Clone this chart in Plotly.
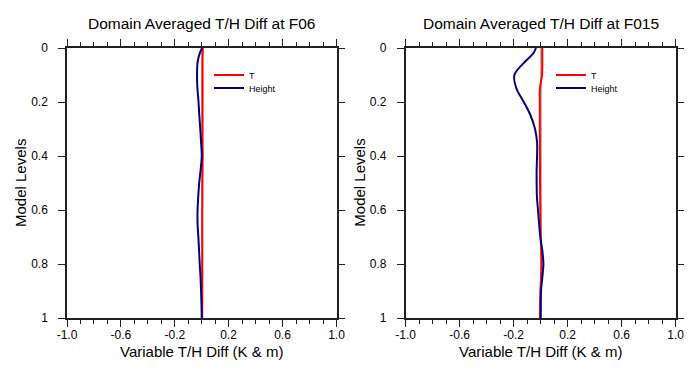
import plotly.graph_objects as go

# Model levels (vertical coordinate)
levels = [0, 0.02, 0.05, 0.1, 0.15, 0.2, 0.25, 0.3, 0.35, 0.4, 0.45, 0.5,
          0.55, 0.6, 0.65, 0.7, 0.75, 0.8, 0.85, 0.9, 0.95, 1.0]

# Panel 1: F06
f06_T = [0.008, 0.007, 0.006, 0.006, 0.006, 0.006, 0.006, 0.006, 0.006, 0.007, 0.006,
         0.005, 0.005, 0.004, 0.004, 0.004, 0.004, 0.004, 0.004, 0.004, 0.004, 0.003]
f06_H = [0.002, -0.015, -0.03, -0.035, -0.032, -0.024, -0.018, -0.011, -0.005, 0.0, -0.008,
         -0.019, -0.026, -0.031, -0.031, -0.025, -0.02, -0.015, -0.009, -0.005, -0.002, 0.0]

# Panel 2: F015
f015_T = [0.012, 0.012, 0.012, 0.01, -0.006, -0.007, -0.007, -0.007, -0.006, -0.006, -0.005,
          -0.005, -0.004, -0.003, -0.002, 0.0, 0.004, 0.006, 0.003, -0.002, -0.004, -0.005]
f015_H = [-0.035, -0.055, -0.115, -0.195, -0.18, -0.125, -0.075, -0.042, -0.027, -0.027, -0.03,
          -0.03, -0.028, -0.02, -0.012, -0.003, 0.012, 0.02, 0.012, 0.002, 0.0, 0.0]

titles = ["Domain Averaged T/H Diff at F06", "Domain Averaged T/H Diff at F015"]
x_tickvals = [-1.0, -0.6, -0.2, 0.2, 0.6, 1.0]
x_ticktext = ["-1.0", "-0.6", "-0.2", "0.2", "0.6", "1.0"]
y_tickvals = [0, 0.2, 0.4, 0.6, 0.8, 1.0]
y_ticktext = ["0", "0.2", "0.4", "0.6", "0.8", "1"]
x_title = "Variable T/H Diff (K & m)"
y_title = "Model Levels"

W, H = 699, 376
FONT = "Liberation Sans, Arial, Helvetica, sans-serif"
RED = "#ff0000"
BLUE = "#000080"

def px(x):
    return x / W

def py(y):
    return 1 - y / H

panels = [
    dict(x0=67, x1=336.5, T=f06_T, Hgt=f06_H, lg=("legend", "legend2"), lx=209),
    dict(x0=405.7, x1=675.7, T=f015_T, Hgt=f015_H, lg=("legend3", "legend4"), lx=551),
]
ytop, ybot = 48, 318

fig = go.Figure()
layout = dict(
    width=W, height=H, margin=dict(l=0, r=0, t=0, b=0, autoexpand=False),
    paper_bgcolor="white", plot_bgcolor="white",
    font=dict(family=FONT, color="black", size=12),
    annotations=[],
)

for i, p in enumerate(panels):
    n = "" if i == 0 else str(i + 1)
    xa, ya = "x" + n, "y" + n
    fig.add_trace(go.Scatter(x=p["T"], y=levels, mode="lines", name="T",
                             line=dict(color=RED, width=2, shape="spline"),
                             xaxis=xa, yaxis=ya, legend=p["lg"][0]))
    fig.add_trace(go.Scatter(x=p["Hgt"], y=levels, mode="lines", name="Height",
                             line=dict(color=BLUE, width=2, shape="spline"),
                             xaxis=xa, yaxis=ya, legend=p["lg"][1]))
    layout["xaxis" + n] = dict(
        domain=[px(p["x0"]), px(p["x1"])], anchor=ya, range=[-1, 1],
        tickvals=x_tickvals, ticktext=x_ticktext, automargin=False,
        ticks="outside", ticklen=7, tickwidth=1.3, tickcolor="#222",
        showline=True, linecolor="#222", linewidth=1.5, mirror="ticks",
        showgrid=False, zeroline=True, zerolinecolor="#b5b5b5", zerolinewidth=2,
        minor=dict(ticks="outside", ticklen=4, tickwidth=1.2, tickcolor="#222",
                   tick0=-1, dtick=0.1, showgrid=False),
        tickfont=dict(size=12), fixedrange=True, ticklabelstandoff=-2,
    )
    layout["yaxis" + n] = dict(
        domain=[py(ybot), py(ytop)], anchor=xa, range=[1, 0],
        tickvals=y_tickvals, ticktext=y_ticktext, automargin=False,
        ticks="outside", ticklen=7, tickwidth=1.3, tickcolor="#222",
        showline=True, linecolor="#222", linewidth=1.5, mirror="ticks",
        showgrid=False, zeroline=False, ticklabelstandoff=8,
        tickfont=dict(size=12), fixedrange=True,
    )
    cx = (p["x0"] + p["x1"]) / 2
    layout["annotations"].append(dict(
        text=titles[i], x=px(cx), y=py(23), xref="paper", yref="paper",
        xanchor="center", yanchor="middle", showarrow=False, font=dict(size=15.5)))
    layout["annotations"].append(dict(
        text=x_title, x=px(cx), y=py(351), xref="paper", yref="paper",
        xanchor="center", yanchor="middle", showarrow=False, font=dict(size=15)))
    layout["annotations"].append(dict(
        text=y_title, x=px(p["x0"] - 47), y=py((ytop + ybot) / 2), xref="paper", yref="paper",
        xanchor="center", yanchor="middle", showarrow=False, textangle=-90,
        font=dict(size=15)))
    for name, yy in zip(p["lg"], (75, 88)):
        layout[name] = dict(x=px(p["lx"]), y=py(yy), xanchor="left", yanchor="middle",
                            xref="paper", yref="paper", bgcolor="rgba(0,0,0,0)",
                            font=dict(size=9), borderwidth=0)

layout["showlegend"] = True
fig.update_layout(**layout)
fig.write_html("out.html", config={"displayModeBar": False},
               post_script="document.body.style.margin='0px';document.body.style.overflow='hidden';")
